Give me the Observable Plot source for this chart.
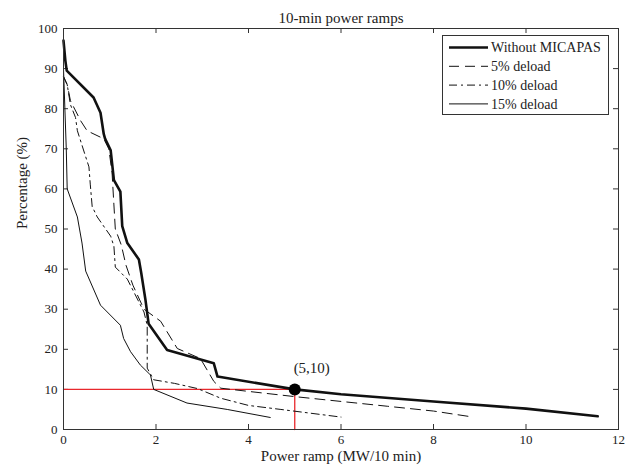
<!DOCTYPE html>
<html><head><meta charset="utf-8">
<script src="https://cdn.jsdelivr.net/npm/d3@7"></script>
<script src="https://cdn.jsdelivr.net/npm/@observablehq/plot@0.6"></script>
<style>
body{margin:0;background:#fff}
#wrap{position:relative;width:639px;height:473px}
#legend{position:absolute;left:442px;top:35px;width:165px;height:78px;border:1px solid #333;background:#fff}
</style>
</head><body><div id="wrap"></div>
<script>
const xTicks = [0, 2, 4, 6, 8, 10, 12];
const yTicks = [0, 10, 20, 30, 40, 50, 60, 70, 80, 90, 100];
const seriesNames = ["Without MICAPAS", "5% deload", "10% deload", "15% deload"];
const withoutMicapas = [[0,97],[0.04,92],[0.07,89.5],[0.65,82.8],[0.80,79],[0.87,73.7],[0.9,72.5],[1.02,69.6],[1.09,62.2],[1.23,59.3],[1.27,50.7],[1.38,46.5],[1.63,42.4],[1.68,39.1],[1.77,32.5],[1.84,26.4],[2.24,19.8],[3.25,16.5],[3.33,13.2],[5,10],[6,8.8],[8,7.0],[10,5.2],[11.55,3.3]];
const deload5 = [[0,88],[0.08,86],[0.15,82],[0.37,77],[0.51,74.5],[0.87,72.5],[0.98,70],[1.05,64],[1.09,56],[1.12,50],[1.25,46],[1.35,41],[1.5,36],[1.74,30],[2.1,27],[2.46,20.2],[2.96,17.7],[3.25,12],[3.4,10.3],[4,9.5],[5,8.2],[6,7],[7,5.8],[8,4.6],[8.8,3.2]];
const deload10 = [[0,88],[0.08,86],[0.15,81],[0.26,77.8],[0.3,74.5],[0.48,68],[0.55,65.5],[0.58,61],[0.62,55.6],[0.73,53],[1.02,48.2],[1.09,45.7],[1.12,40.5],[1.38,37.5],[1.74,29.3],[1.81,26],[1.81,15.3],[1.95,12.4],[2.4,11.5],[2.9,10.2],[3.4,7.8],[4.0,6.0],[4.7,5.0],[6.0,3.1]];
const deload15 = [[0,90],[0.03,80],[0.06,70],[0.08,60],[0.3,53],[0.4,46.5],[0.48,39.5],[0.8,31],[1.23,26],[1.3,22.7],[1.45,19.4],[1.66,16.1],[1.88,13.6],[1.95,10],[2.67,6.6],[3.54,5.0],[4.47,3.0]];
const markPoint = [[5, 10]];
const markLabel = "(5,10)";
const guide = [[0,10],[5,10],[5,0]];

const styles = [
  {strokeWidth: 2.6, dash: null},
  {strokeWidth: 1, dash: "10,6"},
  {strokeWidth: 1, dash: "8,4,2,4"},
  {strokeWidth: 1, dash: null}
];
const data = [withoutMicapas, deload5, deload10, deload15];

const lineMarks = data.map((pts, i) => Plot.line(pts, {
  x: d => d[0], y: d => d[1], stroke: "#111",
  strokeWidth: styles[i].strokeWidth, strokeDasharray: styles[i].dash
}));

const plot = Plot.plot({
  width: 639, height: 473,
  marginLeft: 63, marginRight: 21, marginTop: 28, marginBottom: 44,
  x: {domain: [0, 12]},
  y: {domain: [0, 100]},
  style: {fontFamily: "Liberation Serif", fontSize: "13px", color: "#222", background: "white"},
  marks: [
    Plot.axisX(xTicks, {tickSize: 0, tickPadding: 5, label: null, fontSize: 13}),
    Plot.axisY(yTicks, {tickSize: 0, tickPadding: 6, label: null, fontSize: 13}),
    Plot.tickX(xTicks, {x: d => d, insetTop: 396, stroke: "#333"}),
    Plot.tickX(xTicks, {x: d => d, insetBottom: 396, stroke: "#333"}),
    Plot.tickY(yTicks, {y: d => d, insetRight: 550, stroke: "#333"}),
    Plot.tickY(yTicks, {y: d => d, insetLeft: 550, stroke: "#333"}),
    Plot.line(guide, {x: d => d[0], y: d => d[1], stroke: "#e8282d", strokeWidth: 1.3}),
    ...lineMarks,
    Plot.dot(markPoint, {x: d => d[0], y: d => d[1], r: 6, fill: "#000"}),
    Plot.text(markPoint, {x: d => d[0], y: d => d[1], text: () => markLabel, dx: 17, dy: -21, fontSize: 15, fontFamily: "Liberation Serif"}),
    Plot.frame({stroke: "#333"}),
    Plot.text(["10-min power ramps"], {text: d => d, frameAnchor: "top", dy: -16, fontSize: 15}),
    Plot.text(["Power ramp (MW/10 min)"], {text: d => d, frameAnchor: "bottom", dy: 31, fontSize: 15}),
    Plot.text(["Percentage (%)"], {text: d => d, frameAnchor: "left", dx: -41, rotate: -90, fontSize: 15})
  ]
});

const wrap = document.getElementById("wrap");
wrap.appendChild(plot);

// legend
const leg = document.createElement("div");
leg.id = "legend";
wrap.appendChild(leg);
const lsvg = d3.select(leg).append("svg").attr("width", 165).attr("height", 78)
  .style("font-family", "Liberation Serif").style("font-size", "14px");
seriesNames.forEach((name, i) => {
  const cy = 11.5 + i * 18.8;
  lsvg.append("line").attr("x1", 6).attr("x2", 45).attr("y1", cy).attr("y2", cy)
    .attr("stroke", "#111").attr("stroke-width", styles[i].strokeWidth)
    .attr("stroke-dasharray", styles[i].dash);
  lsvg.append("text").attr("x", 48).attr("y", cy).attr("dy", "0.35em")
    .attr("fill", "#222").text(name);
});
</script></body></html>
